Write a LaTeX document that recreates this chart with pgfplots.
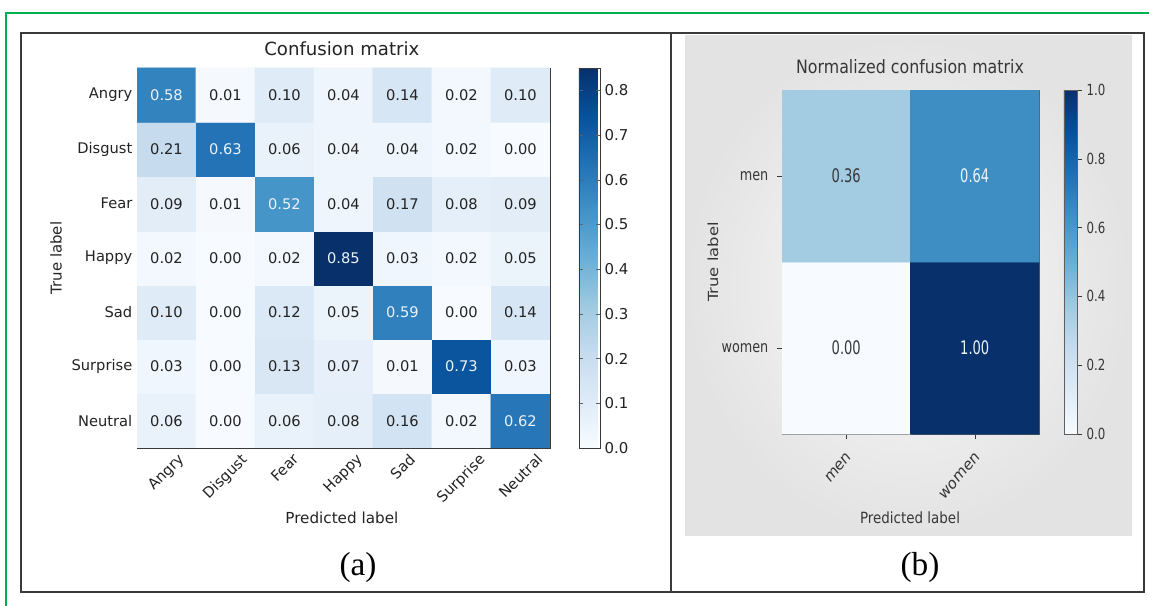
\documentclass[border=0pt]{standalone}
\usepackage{fontspec}
\setmainfont{DejaVu Sans}
\newfontfamily\capfont{Liberation Serif}
\usepackage{graphicx}
\usepackage{pgfplots}
\usepackage{pgfplotstable}
\pgfplotsset{compat=1.18}
\pgfplotsset{/pgf/number format/assume math mode=true}
\definecolor{gborder}{RGB}{0,176,80}
\definecolor{boxc}{RGB}{58,58,58}
\definecolor{darktext}{RGB}{35,35,35}
\definecolor{lighttext}{RGB}{235,242,250}
\definecolor{rtext}{RGB}{55,55,55}
\pgfplotsset{colormap={blues}{rgb255=(247,251,255) rgb255=(222,235,247) rgb255=(198,219,239) rgb255=(158,202,225) rgb255=(107,174,214) rgb255=(66,146,198) rgb255=(33,113,181) rgb255=(8,81,156) rgb255=(8,48,107)}}
\newcommand\fs[1]{\fontsize{#1}{#1}\selectfont}

\pgfplotstableread{
x y v
0 0 0.06
1 0 0.00
2 0 0.06
3 0 0.08
4 0 0.16
5 0 0.02
6 0 0.62
0 1 0.03
1 1 0.00
2 1 0.13
3 1 0.07
4 1 0.01
5 1 0.73
6 1 0.03
0 2 0.10
1 2 0.00
2 2 0.12
3 2 0.05
4 2 0.59
5 2 0.00
6 2 0.14
0 3 0.02
1 3 0.00
2 3 0.02
3 3 0.85
4 3 0.03
5 3 0.02
6 3 0.05
0 4 0.09
1 4 0.01
2 4 0.52
3 4 0.04
4 4 0.17
5 4 0.08
6 4 0.09
0 5 0.21
1 5 0.63
2 5 0.06
3 5 0.04
4 5 0.04
5 5 0.02
6 5 0.00
0 6 0.58
1 6 0.01
2 6 0.10
3 6 0.04
4 6 0.14
5 6 0.02
6 6 0.10
}\leftdata

\pgfplotstableread{
x y v
0 0 0.00
1 0 1.00
0 1 0.36
1 1 0.64
}\rightdata

\begin{document}
\begin{tikzpicture}
\path[use as bounding box, fill=white] (0pt,0pt) rectangle (861.75pt,-454.5pt);
% gray background of panel (b)
\shade[inner color=white!98!black, outer color=white!89!black] (513.75pt,-27pt) rectangle (849pt,-401.25pt);

% ---------- (a) ----------
\begin{axis}[
  at={(102.75pt,-51pt)}, anchor=north west,
  scale only axis, width=309.75pt, height=285pt,
  xmin=-0.5, xmax=6.5, ymin=-0.5, ymax=6.5, enlargelimits=false,
  colormap name=blues, point meta min=0, point meta max=0.85,
  xtick={0,1,2,3,4,5,6}, ytick={0,1,2,3,4,5,6},
  xticklabels={\rotatebox{45}{Angry},\rotatebox{45}{Disgust},\rotatebox{45}{Fear},\rotatebox{45}{Happy},\rotatebox{45}{Sad},\rotatebox{45}{Surprise},\rotatebox{45}{Neutral}},
  yticklabels={Neutral,Surprise,Sad,Happy,Fear,Disgust,Angry},
  xticklabel style={anchor=north, font=\fs{11}, text=darktext},
  yticklabel style={font=\fs{11}, text=darktext},
  tick align=inside, major tick length=3pt, tick style={color=boxc!80},
  axis line style={draw=boxc},
  title={Confusion matrix},
  title style={at={(axis description cs:0.496,1.029)}, anchor=center, font=\fs{13.6}, text=darktext},
  xlabel={Predicted label},
  xlabel style={at={(axis description cs:0.496,-0.184)}, anchor=center, font=\fs{11.4}, text=darktext},
  ylabel={True label},
  ylabel style={at={(axis description cs:-0.196,0.5)}, anchor=center, rotate=0, font=\fs{11.2}, text=darktext},
  colorbar,
  colorbar style={
    at={(parent axis.north east)}, anchor=north west, xshift=13.2pt,
    scale only axis, width=15.75pt, height=285pt,
    ytick={0,0.1,0.2,0.3,0.4,0.5,0.6,0.7,0.8},
    yticklabel={\pgfmathprintnumber[fixed,fixed zerofill,precision=1]{\tick}},
    yticklabel style={font=\fs{11.2}, text=darktext},
    tick align=inside, major tick length=3pt,
    axis line style={draw=boxc},
  },
]
\addplot[matrix plot*, mesh/cols=7, point meta=explicit] table[x=x, y=y, meta=v] {\leftdata};
\addplot[draw=none, mark=none, point meta=explicit,
  nodes near coords={\ifdim\pgfplotspointmetatransformed pt>500pt\color{lighttext}\else\color{darktext}\fi\pgfmathprintnumber[fixed,fixed zerofill,precision=2]{\pgfplotspointmeta}},
  every node near coord/.append style={anchor=center, font=\fs{11}}]
  table[x=x, y=y, meta=v] {\leftdata};
\end{axis}

% ---------- (b) ----------
\begin{axis}[
  at={(586.5pt,-67.5pt)}, anchor=north west,
  scale only axis, width=192.75pt, height=258pt,
  xmin=-0.5, xmax=1.5, ymin=-0.5, ymax=1.5, enlargelimits=false,
  colormap name=blues, point meta min=0, point meta max=1,
  xtick={0,1}, ytick={0,1},
  xtick pos=bottom, ytick pos=left,
  xticklabels={\scalebox{0.84}[1]{\rotatebox{45}{men}},\scalebox{0.84}[1]{\rotatebox{45}{women}}},
  yticklabels={\scalebox{0.8}[1]{women},\scalebox{0.8}[1]{men}},
  xticklabel style={anchor=north east, xshift=8pt, yshift=-6pt, font=\fs{12.3}, text=rtext},
  yticklabel style={font=\fs{12}, text=rtext, xshift=-3pt},
  tick align=outside, major tick length=3.75pt, tick style={color=rtext},
  axis line style={draw=rtext!80},
  title={\scalebox{0.86}[1]{Normalized confusion matrix}},
  title style={at={(axis description cs:0.498,1.0436)}, anchor=center, font=\fs{13.8}, text=rtext},
  xlabel={\scalebox{0.87}[1]{Predicted label}},
  xlabel style={at={(axis description cs:0.498,-0.244)}, anchor=center, font=\fs{11.6}, text=rtext},
  ylabel={\scalebox{1}[0.85]{True label}},
  ylabel style={at={(axis description cs:-0.2685,0.5)}, anchor=center, font=\fs{12.3}, text=rtext},
  colorbar,
  colorbar style={
    at={(parent axis.north east)}, anchor=north west, xshift=10.2pt,
    scale only axis, width=9.75pt, height=258pt,
    ytick={0,0.2,0.4,0.6,0.8,1.0},
    yticklabel={\scalebox{0.77}[1]{\pgfmathprintnumber[fixed,fixed zerofill,precision=1]{\tick}}},
    yticklabel style={font=\fs{11.5}, text=rtext},
    ytick pos=right, tick align=outside, major tick length=3.75pt, tick style={color=rtext},
    axis line style={draw=rtext!80},
  },
]
\addplot[matrix plot*, mesh/cols=2, point meta=explicit] table[x=x, y=y, meta=v] {\rightdata};
\addplot[draw=none, mark=none, point meta=explicit,
  nodes near coords={\ifdim\pgfplotspointmetatransformed pt>500pt\color{lighttext}\else\color{rtext}\fi\scalebox{0.7}[1]{\pgfmathprintnumber[fixed,fixed zerofill,precision=2]{\pgfplotspointmeta}}},
  every node near coord/.append style={anchor=center, font=\fs{14}}]
  table[x=x, y=y, meta=v] {\rightdata};
\end{axis}

% frames
\draw[boxc, line width=1.5pt] (15.75pt,-24.75pt) rectangle (858pt,-444pt);
\draw[boxc, line width=1.5pt] (503.25pt,-24.75pt) -- (503.25pt,-444pt);
\draw[gborder, line width=1.5pt] (861.75pt,-9.75pt) -- (4.5pt,-9.75pt) -- (4.5pt,-454.5pt);
\node[font=\capfont\fs{25}, text=black] at (268.5pt,-425.25pt) {(a)};
\node[font=\capfont\fs{25}, text=black] at (690pt,-425.25pt) {(b)};
\end{tikzpicture}
\end{document}
